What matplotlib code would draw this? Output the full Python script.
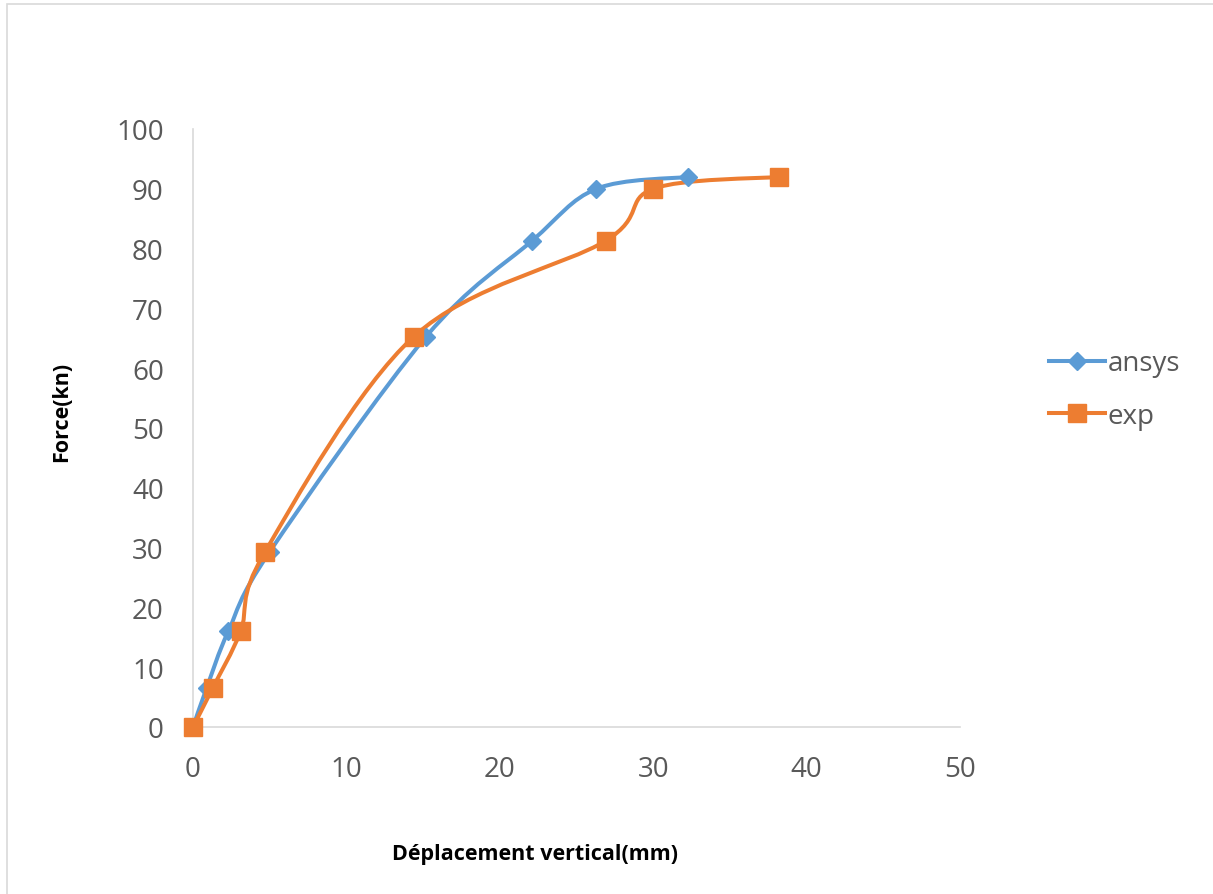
import numpy as np
import matplotlib
matplotlib.use("Agg")
import matplotlib.pyplot as plt
from matplotlib.path import Path
from matplotlib.patches import PathPatch, Rectangle
from matplotlib.lines import Line2D

# Data
ansys_x = [0, 0.9, 2.3, 5.0, 15.2, 22.1, 26.3, 32.3]
ansys_y = [0, 6.6, 16.0, 29.3, 65.3, 81.3, 90.0, 92.0]
exp_x = [0, 1.3, 3.1, 4.7, 14.4, 26.9, 30.0, 38.2]
exp_y = [0, 6.6, 16.0, 29.3, 65.3, 81.3, 90.0, 92.0]
series_names = ["ansys", "exp"]
xticks = [0, 10, 20, 30, 40, 50]
yticks = [0, 10, 20, 30, 40, 50, 60, 70, 80, 90, 100]

BLUE = "#5B9BD5"
ORANGE = "#ED7D31"
GRAY_TXT = "#595959"

W, H = 1213, 895
fig = plt.figure(figsize=(W / 100, H / 100), dpi=100)
fig.patches.append(Rectangle((7 / W, -0.1), 1.2, 1 - 5 / H + 0.1, transform=fig.transFigure,
                             fill=False, edgecolor="#d9d9d9", linewidth=1.2))

ax = fig.add_axes([193 / W, 1 - 728 / H, (960 - 193) / W, (728 - 130) / H])


def smooth_path(xs, ys):
    P = np.column_stack([xs, ys]).astype(float)
    n = len(P)
    verts = [P[0]]
    codes = [Path.MOVETO]
    for i in range(n - 1):
        p0 = P[i - 1] if i > 0 else P[i]
        p1 = P[i]
        p2 = P[i + 1]
        p3 = P[i + 2] if i + 2 < n else P[i + 1]
        c1 = p1 + (p2 - p0) / 6.0
        c2 = p2 - (p3 - p1) / 6.0
        verts += [c1, c2, p2]
        codes += [Path.CURVE4] * 3
    return Path(np.array(verts), codes)


lw = 2.9
ax.add_patch(PathPatch(smooth_path(ansys_x, ansys_y), fill=False, edgecolor=BLUE,
                       linewidth=lw, capstyle="round", joinstyle="round", zorder=2, clip_on=False))
ax.add_patch(PathPatch(smooth_path(exp_x, exp_y), fill=False, edgecolor=ORANGE,
                       linewidth=lw, capstyle="round", joinstyle="round", zorder=3, clip_on=False))
ax.plot(ansys_x, ansys_y, linestyle="none", marker="D", markersize=9.5, color=BLUE,
        zorder=4, clip_on=False)
ax.plot(exp_x, exp_y, linestyle="none", marker="s", markersize=12.5, color=ORANGE,
        zorder=5, clip_on=False)

ax.set_xlim(0, 50)
ax.set_ylim(0, 100)
ax.set_xticks(xticks)
ax.set_yticks(yticks)
ax.tick_params(length=0, labelsize=20, labelcolor=GRAY_TXT)
ax.tick_params(axis="y", pad=21)
ax.tick_params(axis="x", pad=20)
for lab in ax.get_xticklabels() + ax.get_yticklabels():
    lab.set_family("Open Sans")
for s in ["top", "right"]:
    ax.spines[s].set_visible(False)
ax.spines["left"].set_color("#d9d9d9")
ax.spines["bottom"].set_color("#d9d9d9")
ax.spines["left"].set_linewidth(1.2)
ax.spines["bottom"].set_linewidth(1.2)

fig.text(535 / W, 1 - 855 / H, "Déplacement vertical(mm)", ha="center", va="center",
         fontsize=15.5, fontweight="bold", family="Open Sans", color="black")
fig.text(62 / W, 1 - 412 / H, "Force(kn)", ha="center", va="center", rotation=90,
         fontsize=15.5, fontweight="bold", family="Open Sans", color="black")

handles = [
    Line2D([], [], color=BLUE, linewidth=lw, marker="D", markersize=9.5),
    Line2D([], [], color=ORANGE, linewidth=lw, marker="s", markersize=12.5),
]
leg = fig.legend(handles, series_names, loc="center left", bbox_to_anchor=(1024 / W, 1 - 390.5 / H),
                 frameon=False, handlelength=2.0, handletextpad=0.1,
                 labelspacing=0.88, prop={"family": "Open Sans", "size": 20})
for t in leg.get_texts():
    t.set_color(GRAY_TXT)

fig.savefig("out.png", dpi=100)
